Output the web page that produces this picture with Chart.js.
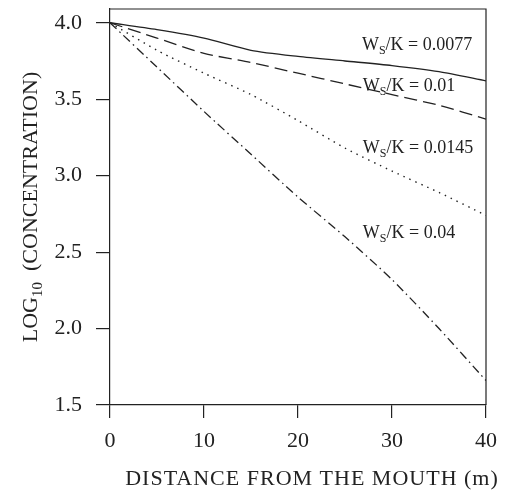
<!DOCTYPE html>
<html>
<head>
<meta charset="utf-8">
<script src="https://cdn.jsdelivr.net/npm/chart.js@4.4.0/dist/chart.umd.min.js"></script>
<style>
    body { margin: 0; background: #fff; }
    #wrap { width: 507px; height: 492px; }
</style>
</head>
<body>
<div id="wrap"><canvas id="Chart1" width="507" height="492"></canvas></div>
<script>
// values
const distance = [0, 5, 10, 15, 20, 25, 30, 35, 40];
const ratio0077 = [4.0, 3.955, 3.9, 3.82, 3.78, 3.75, 3.72, 3.68, 3.62];
const ratio001 = [4.0, 3.9, 3.8, 3.74, 3.67, 3.6, 3.53, 3.46, 3.37];
const ratio0145 = [4.0, 3.82, 3.67, 3.53, 3.36, 3.18, 3.03, 2.89, 2.74];
const ratio004 = [4.0, 3.71, 3.42, 3.14, 2.86, 2.6, 2.32, 2.0, 1.66];
const ratioNames = ['0.0077', '0.01', '0.0145', '0.04'];
const xTicks = [0, 10, 20, 30, 40];
const yTicks = [1.5, 2.0, 2.5, 3.0, 3.5, 4.0];

// where the curve labels sit (data units, baseline of text)
const labelSpots = [[26.8, 3.82], [26.9, 3.555], [26.9, 3.15], [26.9, 2.595]];

const ink = '#222';
const serif = '"Liberation Serif", "Times New Roman", serif';

const toPoints = ys => ys.map((y, i) => ({ x: distance[i], y: y }));

const lineStyles = [
    [],
    [13, 6],
    [1.5, 5],
    [9, 4, 1.5, 4]
];
const allSeries = [ratio0077, ratio001, ratio0145, ratio004];

const extras = {
    id: 'extras',
    afterDraw(chart) {
        const ctx = chart.ctx;
        const area = chart.chartArea;
        const xs = chart.scales.x;
        const ys = chart.scales.y;
        ctx.save();
        // top and right frame
        ctx.strokeStyle = ink;
        ctx.lineWidth = 1.2;
        ctx.beginPath();
        ctx.moveTo(area.left, area.top);
        ctx.lineTo(area.right, area.top);
        ctx.lineTo(area.right, area.bottom);
        ctx.stroke();

        ctx.fillStyle = ink;
        ctx.textBaseline = 'alphabetic';
        ctx.textAlign = 'left';

        // curve labels  W_S/K = ...
        ratioNames.forEach((name, i) => {
            let x = xs.getPixelForValue(labelSpots[i][0]);
            const y = ys.getPixelForValue(labelSpots[i][1]);
            ctx.font = '18px ' + serif;
            ctx.fillText('W', x, y);
            x += ctx.measureText('W').width;
            ctx.font = '12px ' + serif;
            ctx.fillText('S', x, y + 4);
            x += ctx.measureText('S').width;
            ctx.font = '18px ' + serif;
            ctx.fillText('/K = ' + name, x, y);
        });

        // x title
        ctx.font = '22px ' + serif;
        ctx.letterSpacing = '1px';
        ctx.textAlign = 'center';
        ctx.fillText('DISTANCE FROM THE MOUTH (m)', 312, 485);
        ctx.letterSpacing = '0px';

        // y title with subscript
        ctx.translate(37, (area.top + area.bottom) / 2);
        ctx.rotate(-Math.PI / 2);
        ctx.textAlign = 'left';
        ctx.font = '22px ' + serif;
        const w1 = ctx.measureText('LOG').width;
        const w3 = ctx.measureText('  (CONCENTRATION)').width;
        ctx.font = '15px ' + serif;
        const w2 = ctx.measureText('10').width;
        let u = -(w1 + w2 + w3) / 2;
        ctx.font = '22px ' + serif;
        ctx.fillText('LOG', u, 0);
        u += w1;
        ctx.font = '15px ' + serif;
        ctx.fillText('10', u, 5);
        u += w2;
        ctx.font = '22px ' + serif;
        ctx.fillText('  (CONCENTRATION)', u, 0);
        ctx.restore();
    }
};

const ctx1 = document.getElementById('Chart1').getContext('2d');

new Chart(ctx1, {
    type: 'line',
    data: {
        datasets: allSeries.map((vals, i) => ({
            label: 'Ws/K = ' + ratioNames[i],
            data: toPoints(vals),
            borderColor: ink,
            borderWidth: i === 2 ? 1.4 : 1.3,
            borderDash: lineStyles[i],
            pointRadius: 0,
            tension: 0.25,
            fill: false
        }))
    },
    options: {
        responsive: false,
        animation: false,
        events: [],
        layout: { padding: { top: 9, right: 21, left: 0, bottom: 0 } },
        plugins: {
            legend: { display: false },
            tooltip: { enabled: false }
        },
        scales: {
            x: {
                type: 'linear',
                min: 0,
                max: 40,
                afterBuildTicks: s => { s.ticks = xTicks.map(v => ({ value: v })); },
                afterFit: s => { s.height = 87; s.paddingLeft = 0; s.paddingRight = 0; },
                grid: { drawOnChartArea: false, tickLength: 13, color: ink, lineWidth: 1.2 },
                border: { color: ink, width: 1.2 },
                ticks: { color: ink, padding: 10, maxRotation: 0, font: { family: serif, size: 22 } }
            },
            y: {
                type: 'linear',
                min: 1.5,
                max: 4.09,
                afterBuildTicks: s => { s.ticks = yTicks.map(v => ({ value: v })); },
                afterFit: s => { s.width = 110; s.paddingTop = 0; s.paddingBottom = 0; },
                grid: { drawOnChartArea: false, tickLength: 14, color: ink, lineWidth: 1.2 },
                border: { color: ink, width: 1.2 },
                ticks: {
                    color: ink,
                    padding: 14,
                    font: { family: serif, size: 22 },
                    callback: v => v.toFixed(1)
                }
            }
        }
    },
    plugins: [extras]
});
</script>
</body>
</html>
